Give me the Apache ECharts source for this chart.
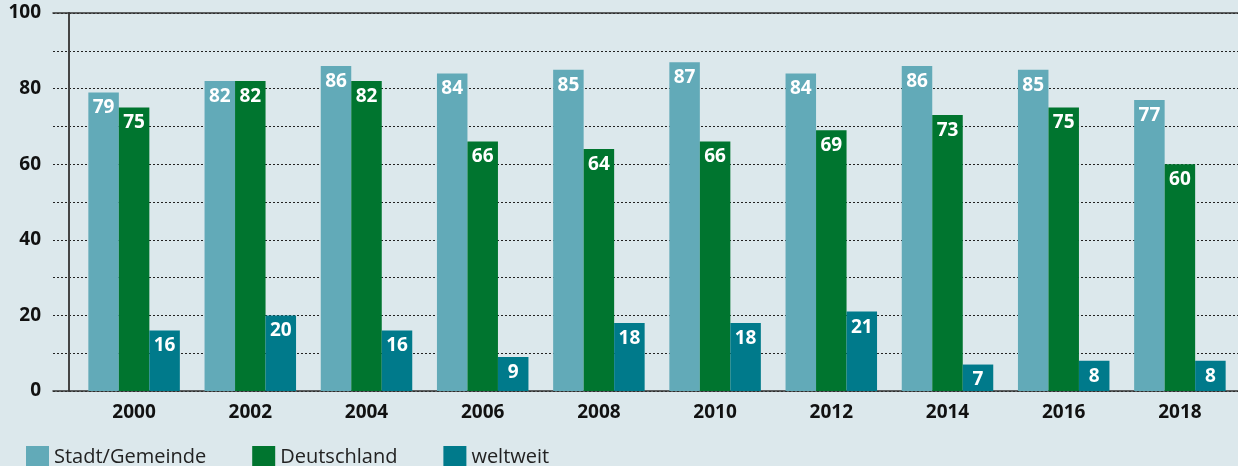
<!DOCTYPE html>
<html><head><meta charset="utf-8">
<script src="https://cdn.jsdelivr.net/npm/echarts@6/dist/echarts.min.js"></script>
<style>html,body{margin:0;padding:0;background:#dce8ec;}#c{width:1238px;height:466px;}</style>
</head><body><div id="c"></div>
<script>
var years = ['2000','2002','2004','2006','2008','2010','2012','2014','2016','2018'];
var stadt = [79,82,86,84,85,87,84,86,85,77];
var deutschland = [75,82,82,66,64,66,69,73,75,60];
var weltweit = [16,20,16,9,18,18,21,7,8,8];
var seriesNames = ['Stadt/Gemeinde','Deutschland','weltweit'];
var colors = ['#62aab8','#00752f','#007a8b'];
var FONT = 'Open Sans';

var chart = echarts.init(document.getElementById('c'));
function lbl(){return {show:true,position:'insideTop',distance:6,color:'#fff',fontFamily:FONT,fontWeight:'bold',fontSize:19};}
chart.setOption({
  backgroundColor:'#dce8ec',
  animation:false,
  color:colors,
  legend:{left:21,top:441,itemWidth:23,itemHeight:23,itemGap:46,icon:'rect',
    textStyle:{fontFamily:FONT,fontSize:20,color:'#222',padding:[0,0,0,0]},
    data:seriesNames},
  grid:[
    {left:53,right:0,top:13,bottom:75},
    {left:76,right:-3,top:13,bottom:75},
    {left:69,width:1,top:13,bottom:75}
  ],
  xAxis:[
    {gridIndex:0,type:'value',position:'bottom',min:0,max:1,axisLine:{show:true,lineStyle:{color:'#333',width:1.5}},axisTick:{show:false},axisLabel:{show:false},splitLine:{show:false}},
    {gridIndex:0,type:'value',position:'top',min:0,max:1,axisLine:{show:true,lineStyle:{color:'#333',width:1.5}},axisTick:{show:false},axisLabel:{show:false},splitLine:{show:false}},
    {gridIndex:1,type:'category',data:years,axisLine:{show:false},axisTick:{show:false},
      axisLabel:{margin:12,color:'#111',fontFamily:FONT,fontWeight:'bold',fontSize:19}},
    {gridIndex:2,type:'value',min:0,max:1,show:false}
  ],
  yAxis:[
    {gridIndex:0,type:'value',min:0,max:100,interval:10,
      axisLine:{show:false},axisTick:{show:false},
      axisLabel:{margin:12,color:'#111',fontFamily:FONT,fontWeight:'bold',fontSize:19,
        formatter:function(v){return v%20===0?String(v):'';}},
      splitLine:{show:true,lineStyle:{color:'#222',type:[2,2],width:1}}},
    {gridIndex:1,type:'value',min:0,max:100,interval:10,show:false},
    {gridIndex:2,type:'value',min:0,max:100,position:'left',
      axisLine:{show:true,lineStyle:{color:'#444',width:2}},axisTick:{show:false},axisLabel:{show:false},splitLine:{show:false}}
  ],
  series:[
    {name:seriesNames[0],type:'bar',xAxisIndex:2,yAxisIndex:1,data:stadt,barWidth:30.5,barGap:'0%',label:lbl()},
    {name:seriesNames[1],type:'bar',xAxisIndex:2,yAxisIndex:1,data:deutschland,barWidth:30.5,barGap:'0%',label:lbl()},
    {name:seriesNames[2],type:'bar',xAxisIndex:2,yAxisIndex:1,data:weltweit,barWidth:30.5,barGap:'0%',label:lbl()}
  ]
});
</script></body></html>
